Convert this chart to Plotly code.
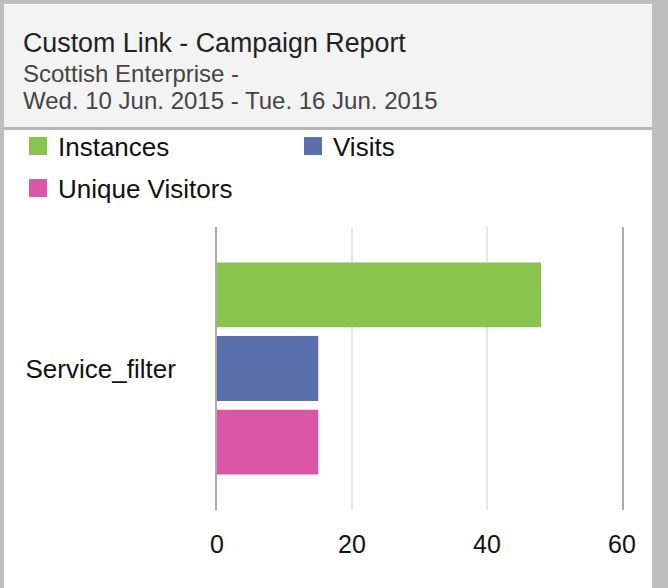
import plotly.graph_objects as go

categories = ['Service_filter']
series_names = ['Instances', 'Visits', 'Unique Visitors']
series_values = [[48], [15], [15]]
series_colors = ['#8bc34f', '#5a6fab', '#d957a5']
x_ticks = [0, 20, 40, 60]

title = 'Custom Link - Campaign Report'
subtitle_lines = ['Scottish Enterprise -', 'Wed. 10 Jun. 2015 - Tue. 16 Jun. 2015']

W, H = 668, 588
# plot area in pixels
L, R, T, B = 217, 622, 227, 510


def px_x(p):
    return (p - L) / (R - L)


def px_y(p):
    return (B - p) / (B - T)


FONT = 'Liberation Sans, Arial, sans-serif'

fig = go.Figure()

for name, vals, col in zip(series_names, series_values, series_colors):
    fig.add_trace(go.Bar(y=categories, x=vals, name=name, orientation='h',
                         marker=dict(color=col, line=dict(width=0)), showlegend=False))

# legend entries with bigger squares (third one goes on its own row)
legend_ids = ['legend', 'legend', 'legend2']
for name, col, lg in zip(series_names, series_colors, legend_ids):
    fig.add_trace(go.Scatter(x=[None], y=[None], mode='markers', name=name, legend=lg,
                             marker=dict(symbol='square', size=16, color=col,
                                         line=dict(width=2, color=col))))

shapes = [
    # frame
    dict(type='rect', x0=px_x(0), x1=px_x(W), y0=px_y(0), y1=px_y(H), fillcolor='#bebebe', line_width=0),
    dict(type='rect', x0=px_x(4), x1=px_x(652), y0=px_y(4), y1=px_y(H), fillcolor='white', line_width=0),
    # header
    dict(type='rect', x0=px_x(4), x1=px_x(652), y0=px_y(5), y1=px_y(127), fillcolor='#f3f3f3', line_width=0),
    dict(type='rect', x0=px_x(4), x1=px_x(652), y0=px_y(127), y1=px_y(130), fillcolor='#b5b5b5', line_width=0),
]
for s in shapes:
    s.update(xref='paper', yref='paper', layer='below')

annotations = [
    dict(text=title, x=px_x(21), y=px_y(43), font=dict(size=26.8, color='#222222')),
    dict(text=subtitle_lines[0], x=px_x(21), y=px_y(74), font=dict(size=24, color='#444444')),
    dict(text=subtitle_lines[1], x=px_x(21), y=px_y(101), font=dict(size=24, color='#444444')),
]
for a in annotations:
    a.update(xref='paper', yref='paper', xanchor='left', yanchor='middle', showarrow=False)

legend_style = dict(orientation='h', xanchor='left', yanchor='middle',
                    entrywidth=230, entrywidthmode='pixels', bgcolor='rgba(0,0,0,0)',
                    font=dict(size=26, color='#111111'))

fig.update_layout(
    width=W, height=H,
    margin=dict(l=L, r=W - R, t=T, b=H - B),
    paper_bgcolor='white', plot_bgcolor='white',
    font=dict(family=FONT, size=25, color='#111111'),
    barmode='group', bargap=0.22, bargroupgap=0.12,
    shapes=shapes, annotations=annotations,
    legend=dict(x=px_x(18), y=px_y(146), **legend_style),
    legend2=dict(x=px_x(18), y=px_y(188), **legend_style),
    xaxis=dict(range=[0, 60], tickvals=x_ticks, showgrid=True, gridcolor='#e6e6e6', gridwidth=2,
               zeroline=False, showline=False, ticks='', ticklabelstandoff=17, fixedrange=True),
    yaxis=dict(autorange='reversed', showgrid=False, zeroline=False, showline=True, mirror=True,
               linecolor='#ababab', linewidth=2, ticks='', ticklabelstandoff=34,
               tickfont=dict(size=26), fixedrange=True),
)

fig.write_html('out.html', config={'displayModeBar': False},
               post_script="document.body.style.margin='0';")
